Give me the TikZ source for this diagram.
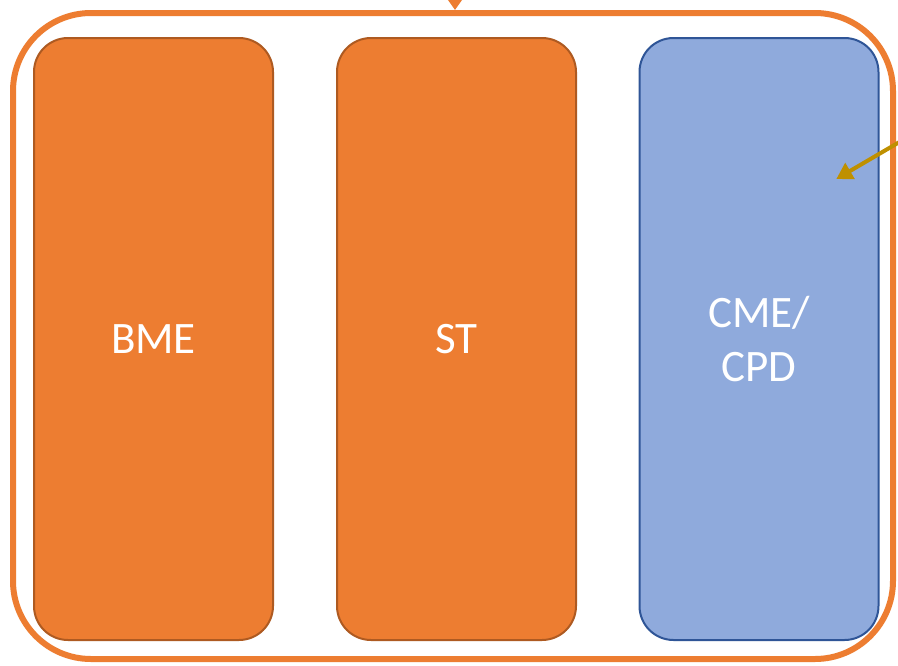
\documentclass[tikz,border=0pt]{standalone}
\usepackage{fontspec}
\setmainfont{Carlito}
\usetikzlibrary{arrows.meta}
\definecolor{orfill}{HTML}{ED7D31}
\definecolor{ordraw}{HTML}{AE5A21}
\definecolor{blfill}{HTML}{8FAADC}
\definecolor{bldraw}{HTML}{2F5597}
\definecolor{gold}{HTML}{BF9000}
\begin{document}
\begin{tikzpicture}[x=1pt,y=-1pt,
  outerbox/.style={draw=orfill, line width=6pt, rounded corners=78pt},
  pillar/.style={line width=2pt, rounded corners=34pt, minimum width=239pt, minimum height=602pt,
     text=white, font=\fontsize{45}{54}\selectfont, align=center, inner sep=0pt},
  orpillar/.style={pillar, fill=orfill, draw=ordraw},
  blpillar/.style={pillar, fill=blfill, draw=bldraw}]
\clip (0,0) rectangle (898,665);
\fill[white] (0,0) rectangle (898,665);
\draw[outerbox] (13,13) rectangle (893,659);
\coordinate (otop) at (455,10);
\coordinate (ofar) at (455,-40);
\node[orpillar] (bme) at (153.5,339) {BME};
\node[orpillar] (st) at (456.5,339) {ST};
\node[blpillar] (cme) at (759,339) {CME/\\CPD};
\coordinate (gstart) at (920,130);
\coordinate (gend) at (838,178);
\draw[orfill, line width=3pt, -{Triangle[length=12pt,width=16pt]}] (ofar) -- (otop);
\draw[gold, line width=4pt, -{Triangle[length=16pt,width=18pt]}, shorten >=-2pt] (gstart) -- (gend);
\end{tikzpicture}
\end{document}
